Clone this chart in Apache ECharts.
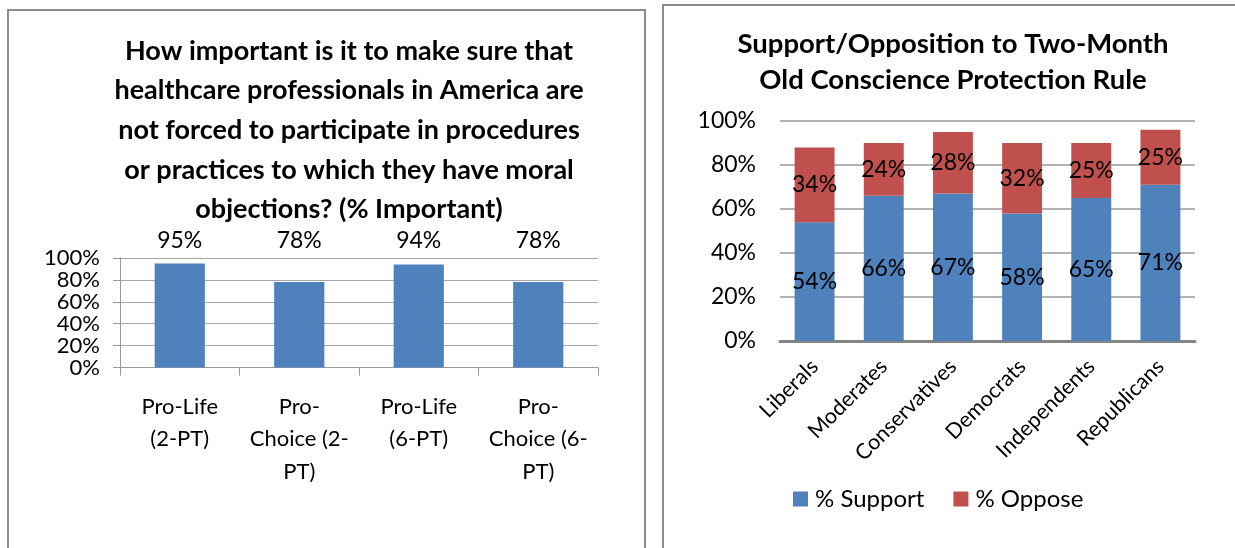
<!DOCTYPE html>
<html>
<head>
<meta charset="utf-8">
<script src="https://cdn.jsdelivr.net/npm/echarts@6/dist/echarts.min.js"></script>
<style>
  html, body { margin: 0; padding: 0; background: #fff; }
  #chart { width: 1235px; height: 548px; }
</style>
</head>
<body>
<div id="chart"></div>
<script>
// left chart: % important
const importanceCats = ['Pro-Life\n(2-PT)', 'Pro-\nChoice (2-\nPT)', 'Pro-Life\n(6-PT)', 'Pro-\nChoice (6-\nPT)'];
const importantVals = [95, 78, 94, 78];
const labelRow = [100, 100, 100, 100]; // invisible anchor for the value labels above the plot

// right chart: support / oppose
const groups = ['Liberals', 'Moderates', 'Conservatives', 'Democrats', 'Independents', 'Republicans'];
const supportVals = [54, 66, 67, 58, 65, 71];
const opposeVals = [34, 24, 28, 32, 25, 25];

const pctTicks = [0, 20, 40, 60, 80, 100];

const FONT = 'Lato, "Noto Sans", sans-serif';
const BLUE = '#4F81BD';
const RED = '#C0504D';

const chart = echarts.init(document.getElementById('chart'), null, { renderer: 'canvas' });

const option = {
  backgroundColor: '#fff',
  animation: false,
  textStyle: { fontFamily: FONT, color: '#000' },
  graphic: [
    // panel frames
    { type: 'rect', shape: { x: 8, y: 10, width: 637, height: 560 }, style: { fill: 'none', stroke: '#8c8c8c', lineWidth: 2 }, silent: true },
    { type: 'rect', shape: { x: 663, y: 5, width: 600, height: 560 }, style: { fill: 'none', stroke: '#8c8c8c', lineWidth: 2 }, silent: true }
  ],
  title: [
    {
      text: 'How important is it to make sure that\nhealthcare professionals in America are\nnot forced to participate in procedures\nor practices to which they have moral\nobjections? (% Important)',
      left: 349, top: 31, textAlign: 'center', padding: 0,
      textStyle: { fontFamily: FONT, fontWeight: 'bold', fontSize: 27, lineHeight: 39.7, color: '#000' }
    },
    {
      text: 'Support/Opposition to Two-Month\nOld Conscience Protection Rule',
      left: 953, top: 26, textAlign: 'center', padding: 0,
      textStyle: { fontFamily: FONT, fontWeight: 'bold', fontSize: 27.5, lineHeight: 36, color: '#000' }
    }
  ],
  legend: {
    data: ['% Support', '% Oppose'],
    left: 788, top: 482,
    itemWidth: 15, itemHeight: 15, itemGap: 29,
    icon: 'rect',
    textStyle: { fontFamily: FONT, fontSize: 24, color: '#000', padding: [0, 0, 0, 2] }
  },
  grid: [
    { left: 120, right: 637, top: 258, bottom: 180.5 },
    { left: 780, right: 40, top: 121, bottom: 207 }
  ],
  xAxis: [
    {
      type: 'category', gridIndex: 0, data: importanceCats,
      axisLine: { lineStyle: { color: '#999', width: 1 } },
      axisTick: { show: true, length: 8, lineStyle: { color: '#999' } },
      axisLabel: { fontFamily: FONT, fontSize: 22, lineHeight: 32.5, color: '#000', margin: 23, interval: 0 }
    },
    {
      type: 'category', gridIndex: 1, data: groups,
      axisLine: { lineStyle: { color: '#858585', width: 3 } },
      axisTick: { show: false },
      axisLabel: { fontFamily: FONT, fontSize: 21.5, color: '#000', rotate: 45, margin: 22, interval: 0 }
    }
  ],
  yAxis: [
    {
      type: 'value', gridIndex: 0, min: pctTicks[0], max: pctTicks[pctTicks.length - 1], interval: 20,
      axisLine: { show: true, lineStyle: { color: '#999' } },
      axisTick: { show: true, length: 7, lineStyle: { color: '#999' } },
      splitLine: { lineStyle: { color: '#a6a6a6', width: 1 } },
      axisLabel: {
        fontFamily: FONT, fontSize: 22, lineHeight: 20, color: '#000', margin: 20, formatter: '{value}%',
        showMinLabel: true, showMaxLabel: true, hideOverlap: false
      }
    },
    {
      type: 'value', gridIndex: 1, min: pctTicks[0], max: pctTicks[pctTicks.length - 1], interval: 20,
      axisLine: { show: false },
      axisTick: { show: false },
      splitLine: { lineStyle: { color: '#9a9a9a', width: 1.5 } },
      axisLabel: { fontFamily: FONT, fontSize: 23, color: '#000', margin: 24, formatter: '{value}%' }
    }
  ],
  series: [
    {
      name: 'Important', type: 'bar', xAxisIndex: 0, yAxisIndex: 0,
      data: importantVals, barWidth: '42%',
      itemStyle: { color: BLUE }
    },
    {
      name: 'labels', type: 'bar', xAxisIndex: 0, yAxisIndex: 0,
      data: labelRow, barWidth: '42%', barGap: '-100%', silent: true,
      itemStyle: { color: 'transparent' },
      label: {
        show: true, position: 'top', distance: 6,
        fontFamily: FONT, fontSize: 23, color: '#000',
        formatter: p => importantVals[p.dataIndex] + '%'
      }
    },
    {
      name: '% Support', type: 'bar', stack: 'all', xAxisIndex: 1, yAxisIndex: 1,
      data: supportVals, barWidth: '57.7%',
      itemStyle: { color: BLUE },
      label: { show: true, position: 'inside', fontFamily: FONT, fontSize: 23, color: '#000', formatter: '{c}%' }
    },
    {
      name: '% Oppose', type: 'bar', stack: 'all', xAxisIndex: 1, yAxisIndex: 1,
      data: opposeVals, barWidth: '57.7%',
      itemStyle: { color: RED },
      label: { show: true, position: 'inside', fontFamily: FONT, fontSize: 23, color: '#000', formatter: '{c}%' }
    }
  ]
};

chart.setOption(option);
</script>
</body>
</html>
